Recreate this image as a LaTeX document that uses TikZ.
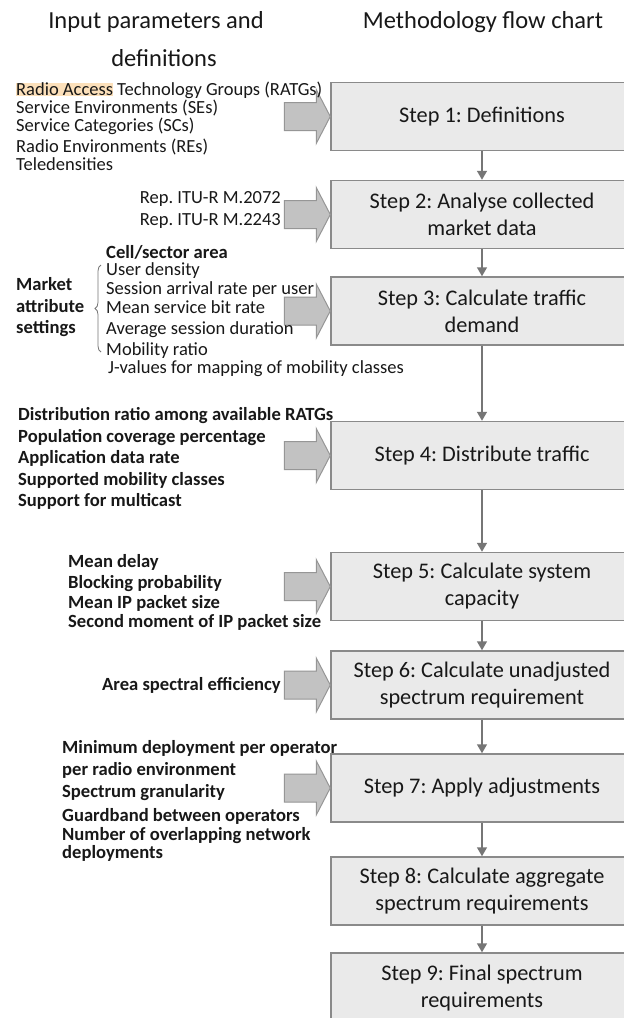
\documentclass[tikz,border=0pt]{standalone}
\usepackage{fontspec}
\setmainfont{Carlito}
\usetikzlibrary{arrows.meta,decorations.pathreplacing}

\definecolor{boxfill}{RGB}{234,234,234}
\definecolor{boxline}{RGB}{138,138,138}
\definecolor{feedfill}{RGB}{194,194,194}
\definecolor{feedline}{RGB}{150,150,150}
\definecolor{flowline}{RGB}{118,118,118}
\definecolor{ink}{RGB}{24,24,24}
\definecolor{hl}{RGB}{252,224,186}

\begin{document}
\frenchspacing
\begin{tikzpicture}[x=1pt,y=-1pt,
  stepbox/.style={draw=boxline, fill=boxfill, line width=1.5pt,
    minimum width=302pt, minimum height=68pt, align=center,
    font=\fontsize{22.3}{27}\selectfont, text=ink, inner sep=0pt},
  title/.style={font=\fontsize{24.5}{30}\selectfont, text=ink, inner sep=0pt},
  param/.style={anchor=base west, font=\fontsize{18.5}{21}\selectfont, text=ink, inner sep=0pt},
  bparam/.style={param, font=\fontsize{18.6}{21}\selectfont\bfseries},
  flow/.style={draw=flowline, line width=1.5pt, -{Triangle[width=10pt,length=9pt]}},
  feed/.pic={\filldraw[fill=feedfill, draw=feedline, line width=1pt]
    (-46,-14) -- (-14,-14) -- (-14,-27) -- (0,0) -- (-14,27) -- (-14,14) -- (-46,14) -- cycle;}
]
\useasboundingbox (0,0) rectangle (624,1018);
\clip (0,0) rectangle (624,1018);
\fill[white] (0,0) rectangle (624,1018);

% column headings
\node[title] (hin1) at (156,22) {Input parameters and};
\node[title] (hin2) at (164,58) {definitions};
\node[title] (hflow) at (483,22) {Methodology flow chart};

% methodology steps
\node[stepbox] (s1) at (482,116.5) {Step 1: Definitions};
\node[stepbox] (s2) at (482,214.5) {Step 2: Analyse collected\\market data};
\node[stepbox] (s3) at (482,311) {Step 3: Calculate traffic\\demand};
\node[stepbox] (s4) at (482,455.5) {Step 4: Distribute traffic};
\node[stepbox] (s5) at (482,586.5) {Step 5: Calculate system\\capacity};
\node[stepbox] (s6) at (482,685) {Step 6: Calculate unadjusted\\spectrum requirement};
\node[stepbox] (s7) at (482,788) {Step 7: Apply adjustments};
\node[stepbox] (s8) at (482,891) {Step 8: Calculate aggregate\\spectrum requirements};
\node[stepbox, minimum height=70pt] (s9) at (482,988) {Step 9: Final spectrum\\requirements};

\draw[flow] (s1) -- (s2);
\draw[flow] (s2) -- (s3);
\draw[flow] (s3) -- (s4);
\draw[flow] (s4) -- (s5);
\draw[flow] (s5) -- (s6);
\draw[flow] (s6) -- (s7);
\draw[flow] (s7) -- (s8);
\draw[flow] (s8) -- (s9);

% input arrows
\foreach \s in {s1,s2,s3,s4,s5,s6,s7} \pic at (\s.west) {feed};

% inputs to step 1
\node[param] (d1) at (16,95.5) {{\setlength\fboxsep{0pt}\colorbox{hl}{Radio Access}} Technology Groups (RATGs)};
\node[param] (d2) at (16,113.5) {Service Environments (SEs)};
\node[param] (d3) at (16,131.5) {Service Categories (SCs)};
\node[param] (d4) at (16,152.5) {Radio Environments (REs)};
\node[param] (d5) at (16,170.5) {Teledensities};

% inputs to step 2
\node[param, anchor=base east] (r1) at (281,203.5) {Rep. ITU-R M.2072};
\node[param, anchor=base east] (r2) at (281,225.5) {Rep. ITU-R M.2243};

% inputs to step 3
\node[bparam] (m0) at (106,258.5) {Cell/sector area};
\node[param] (m1) at (106,275.5) {User density};
\node[param] (m2) at (106,294.5) {Session arrival rate per user};
\node[param] (m3) at (106,313.5) {Mean service bit rate};
\node[param] (m4) at (106,334.5) {Average session duration};
\node[param] (m5) at (106,355) {Mobility ratio};
\node[param] (m6) at (108,373) {J-values for mapping of mobility classes};
\node[bparam] (ma1) at (16,290.5) {Market};
\node[bparam] (ma2) at (16,312.5) {attribute};
\node[bparam] (ma3) at (16,333.5) {settings};
\draw[draw=flowline, line width=0.8pt, decorate, decoration={brace, amplitude=6pt}]
  (101,352) -- (101,265);

% inputs to step 4
\node[bparam] (t1) at (18,420.5) {Distribution ratio among available RATGs};
\node[bparam] (t2) at (18,442.5) {Population coverage percentage};
\node[bparam] (t3) at (18,463.5) {Application data rate};
\node[bparam] (t4) at (18,485.5) {Supported mobility classes};
\node[bparam] (t5) at (18,506.5) {Support for multicast};

% inputs to step 5
\node[bparam] (c1) at (68,567.5) {Mean delay};
\node[bparam] (c2) at (68,588.5) {Blocking probability};
\node[bparam] (c3) at (68,608.5) {Mean IP packet size};
\node[bparam] (c4) at (68,627.5) {Second moment of IP packet size};

% input to step 6
\node[bparam, anchor=base east] (e1) at (281,690.5) {Area spectral efficiency};

% inputs to step 7
\node[bparam] (a1) at (62,753.5) {Minimum deployment per operator};
\node[bparam] (a2) at (62,775.5) {per radio environment};
\node[bparam] (a3) at (62,797.5) {Spectrum granularity};
\node[bparam] (a4) at (62,821.5) {Guardband between operators};
\node[bparam] (a5) at (62,840) {Number of overlapping network};
\node[bparam] (a6) at (62,858.5) {deployments};
\end{tikzpicture}
\end{document}
